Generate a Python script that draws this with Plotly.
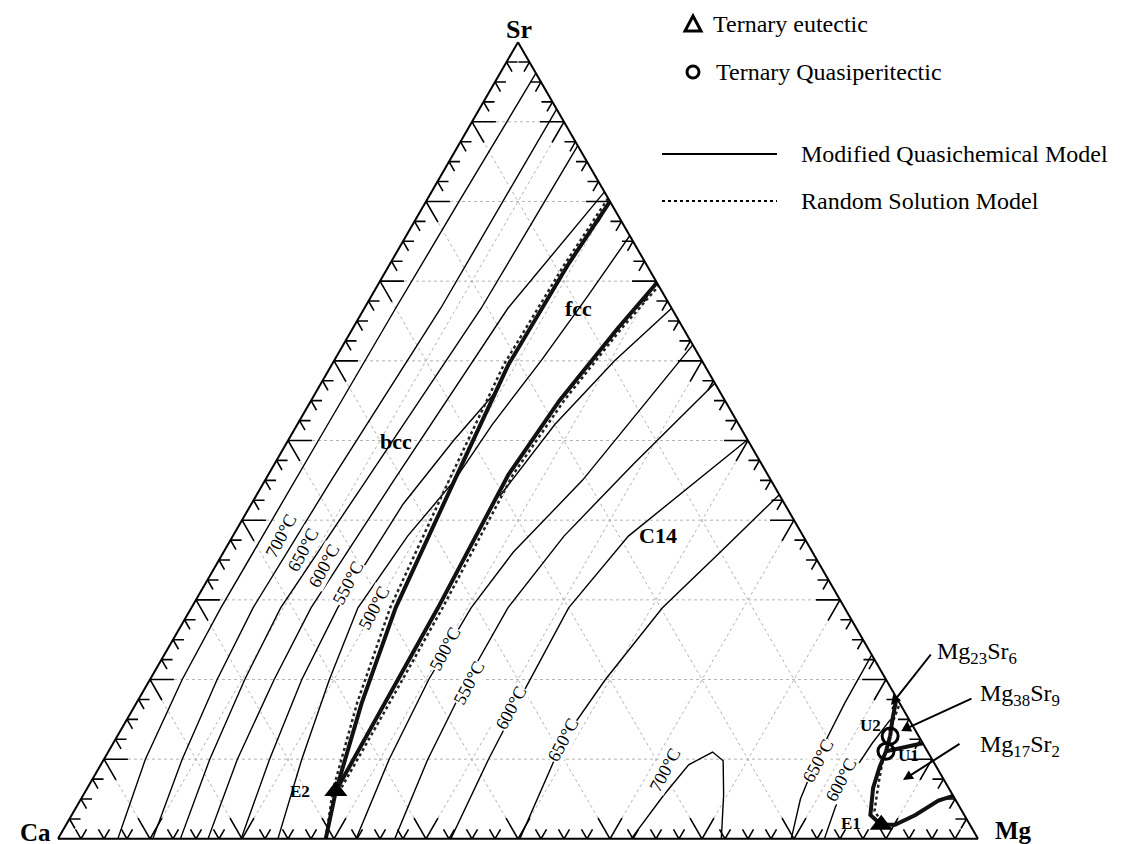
import plotly.graph_objects as go

W, H = 1142, 844

# ---------------- data (mole fractions) ----------------
# each curve: x_Mg list and x_Sr list, x_Ca = 1 - x_Mg - x_Sr

# bcc liquidus isotherms
bcc750_mg = [0.065, 0.045, 0.035, 0.032, 0.033, 0.034, 0.036, 0.039]
bcc750_sr = [0.0, 0.10, 0.20, 0.29, 0.50, 0.666, 0.80, 0.961]
bcc700_mg = [0.103, 0.085, 0.073, 0.067, 0.072, 0.083, 0.084]
bcc700_sr = [0.0, 0.10, 0.20, 0.29, 0.45, 0.666, 0.916]
bcc650_mg = [0.133, 0.115, 0.103, 0.097, 0.110, 0.127, 0.130]
bcc650_sr = [0.0, 0.10, 0.20, 0.29, 0.45, 0.666, 0.870]
bcc600_mg = [0.163, 0.145, 0.135, 0.130, 0.140, 0.156, 0.188]
bcc600_sr = [0.0, 0.10, 0.20, 0.29, 0.45, 0.666, 0.812]
bcc550_mg = [0.199, 0.180, 0.165, 0.159, 0.165, 0.180, 0.195]
bcc550_sr = [0.0, 0.10, 0.20, 0.29, 0.42, 0.50, 0.56]
bcc500_mg = [0.239, 0.215, 0.195, 0.181, 0.190, 0.206]
bcc500_sr = [0.0, 0.10, 0.20, 0.29, 0.38, 0.45]

# fcc isotherm
fcc_mg = [0.243, 0.235, 0.225, 0.212, 0.206]
fcc_sr = [0.757, 0.68, 0.60, 0.52, 0.45]

# C14 isotherms
c14_450_mg = [0.265, 0.280, 0.305, 0.334]
c14_450_sr = [0.43, 0.52, 0.60, 0.666]
c14_500_mg = [0.324, 0.310, 0.303, 0.304, 0.315, 0.345, 0.380]
c14_500_sr = [0.0, 0.10, 0.20, 0.29, 0.36, 0.45, 0.620]
c14_550_mg = [0.366, 0.352, 0.345, 0.344, 0.360, 0.390, 0.428]
c14_550_sr = [0.0, 0.10, 0.20, 0.29, 0.38, 0.47, 0.572]
c14_600_mg = [0.427, 0.418, 0.414, 0.410, 0.430, 0.499]
c14_600_sr = [0.0, 0.10, 0.177, 0.29, 0.38, 0.501]
c14_650_mg = [0.502, 0.487, 0.495, 0.512, 0.540, 0.568]
c14_650_sr = [0.0, 0.124, 0.20, 0.29, 0.36, 0.432]
c14_700_mg = [0.623, 0.631, 0.639, 0.657, 0.674, 0.696, 0.721]
c14_700_sr = [0.0, 0.055, 0.093, 0.109, 0.098, 0.055, 0.0]
mgside650_mg = [0.797, 0.782, 0.774, 0.770, 0.769]
mgside650_sr = [0.0, 0.05, 0.105, 0.17, 0.231]
mgside600_mg = [0.833, 0.825, 0.822, 0.825, 0.830]
mgside600_sr = [0.0, 0.04, 0.08, 0.12, 0.15]

# univariant lines, Modified Quasichemical Model
mqm_bcc_fcc_mg = [0.291, 0.272, 0.245, 0.222, 0.206, 0.192, 0.194, 0.200]
mqm_bcc_fcc_sr = [0.0, 0.060, 0.17, 0.29, 0.45, 0.595, 0.72, 0.800]
mqm_fcc_c14_mg = [0.272, 0.270, 0.268, 0.261, 0.270, 0.288, 0.302]
mqm_fcc_c14_sr = [0.060, 0.17, 0.29, 0.457, 0.55, 0.641, 0.698]
mqm_u2_edge_mg = [0.840, 0.832, 0.823]
mqm_u2_edge_sr = [0.129, 0.150, 0.177]
mqm_u2_u1_mg = [0.840, 0.845]
mqm_u2_u1_sr = [0.129, 0.110]
mqm_u1_edge_mg = [0.845, 0.880]
mqm_u1_edge_sr = [0.110, 0.120]
mqm_u1_e1_mg = [0.845, 0.848, 0.854, 0.868, 0.886]
mqm_u1_e1_sr = [0.110, 0.090, 0.064, 0.030, 0.0176]
mqm_e1_edge_mg = [0.886, 0.901, 0.917, 0.933, 0.946]
mqm_e1_edge_sr = [0.0176, 0.0176, 0.030, 0.048, 0.054]

# univariant lines, Random Solution Model
rsm_bcc_fcc_mg = [0.291, 0.268, 0.240, 0.216, 0.200, 0.187, 0.190, 0.196]
rsm_bcc_fcc_sr = [0.0, 0.062, 0.17, 0.29, 0.45, 0.595, 0.72, 0.804]
rsm_fcc_c14_mg = [0.276, 0.275, 0.273, 0.266, 0.275, 0.292, 0.306]
rsm_fcc_c14_sr = [0.058, 0.17, 0.29, 0.457, 0.55, 0.640, 0.694]
rsm_u1_e1_mg = [0.845, 0.857, 0.870, 0.884]
rsm_u1_e1_sr = [0.105, 0.070, 0.035, 0.022]
rsm_u2_mg = [0.836, 0.830]
rsm_u2_sr = [0.135, 0.170]

# invariant points
eutectic_mg = [0.272, 0.886]
eutectic_sr = [0.060, 0.0176]
quasi_mg = [0.845, 0.840]
quasi_sr = [0.110, 0.129]

grid_step = 0.1
tick_step = 0.025


def ca(mg, sr):
    return [None if m is None else 1 - m - s for m, s in zip(mg, sr)]


fig = go.Figure()


def curve(mg, sr, width=1.3, dash="solid", color="black"):
    fig.add_trace(go.Scatterternary(
        a=sr, b=ca(mg, sr), c=mg, mode="lines",
        line=dict(color=color, width=width, dash=dash),
        hoverinfo="skip", showlegend=False))


# dotted grid
gm, gs = [], []
for k in range(1, 10):
    g = k * grid_step
    gm += [0, 1 - g, None, g, g, None, 1 - g, 0, None]
    gs += [g, g, None, 0, 1 - g, None, 0, 1 - g, None]
curve(gm, gs, width=1, dash="dot", color="#b4b4b4")

# edge ticks (two short arms along the grid directions)
tm, ts = [], []
for k in range(1, 40):
    v = k * tick_step
    d = 0.026 if k % 4 == 0 else 0.012
    tm += [v - d, v, v, None]          # bottom edge Ca-Mg
    ts += [d, 0, d, None]
    tm += [d, 0, d, None]              # left edge Ca-Sr
    ts += [v, v, v - d, None]
    tm += [1 - v - d, 1 - v, 1 - v, None]  # right edge Sr-Mg
    ts += [v, v, v - d, None]
curve(tm, ts, width=1.6)

# isotherms
for mg, sr in [(bcc750_mg, bcc750_sr), (bcc700_mg, bcc700_sr), (bcc650_mg, bcc650_sr),
               (bcc600_mg, bcc600_sr), (bcc550_mg, bcc550_sr), (bcc500_mg, bcc500_sr),
               (fcc_mg, fcc_sr), (c14_450_mg, c14_450_sr), (c14_500_mg, c14_500_sr),
               (c14_550_mg, c14_550_sr), (c14_600_mg, c14_600_sr), (c14_650_mg, c14_650_sr),
               (c14_700_mg, c14_700_sr), (mgside650_mg, mgside650_sr),
               (mgside600_mg, mgside600_sr)]:
    curve(mg, sr, width=1.4)

# univariant lines
for mg, sr in [(rsm_bcc_fcc_mg, rsm_bcc_fcc_sr), (rsm_fcc_c14_mg, rsm_fcc_c14_sr),
               (rsm_u1_e1_mg, rsm_u1_e1_sr), (rsm_u2_mg, rsm_u2_sr)]:
    curve(mg, sr, width=2.5, dash="dot", color="#222222")
for mg, sr in [(mqm_bcc_fcc_mg, mqm_bcc_fcc_sr), (mqm_fcc_c14_mg, mqm_fcc_c14_sr),
               (mqm_u2_edge_mg, mqm_u2_edge_sr), (mqm_u2_u1_mg, mqm_u2_u1_sr),
               (mqm_u1_edge_mg, mqm_u1_edge_sr), (mqm_u1_e1_mg, mqm_u1_e1_sr),
               (mqm_e1_edge_mg, mqm_e1_edge_sr)]:
    curve(mg, sr, width=4, color="#111111")

fig.add_trace(go.Scatterternary(
    a=eutectic_sr, b=ca(eutectic_mg, eutectic_sr), c=eutectic_mg, mode="markers",
    marker=dict(symbol="triangle-up", size=20, color="black"),
    hoverinfo="skip", showlegend=False))
fig.add_trace(go.Scatterternary(
    a=quasi_sr, b=ca(quasi_mg, quasi_sr), c=quasi_mg, mode="markers",
    marker=dict(symbol="circle-open", size=16, color="black", line=dict(width=3)),
    hoverinfo="skip", showlegend=False))

axis = dict(showticklabels=False, ticks="", showline=True, linecolor="black",
            linewidth=2, showgrid=False, title=dict(text=""), min=0)
fig.update_layout(
    width=W, height=H, autosize=False,
    margin=dict(l=0, r=0, t=0, b=0),
    paper_bgcolor="white", plot_bgcolor="white",
    font=dict(family="Liberation Serif", color="black"),
    ternary=dict(sum=1, aaxis=axis, baxis=axis, caxis=axis, bgcolor="white",
                 domain=dict(x=[50 / W, 970 / W], y=[1 - 831 / H, 1 - 34 / H])),
)


def px(x):
    return x / W


def py(y):
    return 1 - y / H


notes = []


def label(x, y, text, size, angle=0, bold=False, bg=None, anchor="center"):
    notes.append(dict(x=px(x), y=py(y), xref="paper", yref="paper", showarrow=False,
                      text=f"<b>{text}</b>" if bold else text, textangle=angle,
                      font=dict(size=size, family="Liberation Serif", color="black"),
                      bgcolor=bg, xanchor=anchor, yanchor="middle", borderpad=0))


# vertex names
label(511, 22, "Sr", 26, bold=True)
label(27, 824, "Ca", 25, bold=True)
label(1005, 822, "Mg", 25, bold=True)
# phase fields
label(388, 433, "bcc", 22, bold=True)
label(570, 300, "fcc", 22, bold=True)
label(650, 527, "C14", 22, bold=True)
# invariant point names
label(292, 783, "E2", 17, bold=True)
label(843, 815, "E1", 17, bold=True)
label(862, 717, "U2", 17, bold=True)
label(900, 747, "U1", 17, bold=True)
# isotherm labels
for x, y, t in [(273, 528, "700°C"), (295, 542, "650°C"), (316, 558, "600°C"),
                (340, 575, "550°C"), (366, 600, "500°C"), (437, 641, "500°C"),
                (461, 675, "550°C"), (503, 700, "600°C"), (555, 732, "650°C"),
                (657, 762, "700°C"), (810, 753, "650°C"), (833, 772, "600°C")]:
    label(x, y, t, 18, angle=-62, bg="white")
# compound labels with arrows
label(928, 645, "Mg<sub>23</sub>Sr<sub>6</sub>", 24, anchor="left")
label(971, 687, "Mg<sub>38</sub>Sr<sub>9</sub>", 24, anchor="left")
label(971, 738, "Mg<sub>17</sub>Sr<sub>2</sub>", 24, anchor="left")
for (x0, y0), (x1, y1) in [((924, 645), (883, 697)), ((965, 690), (893, 723)),
                           ((953, 735), (895, 772))]:
    notes.append(dict(x=px(x1), y=py(y1), xref="paper", yref="paper", text="",
                      showarrow=True, ax=x0 - x1, ay=y0 - y1, arrowhead=2,
                      arrowsize=1, arrowwidth=2, arrowcolor="black"))

# legend
label(704, 16, "Ternary eutectic", 24, anchor="left")
label(707, 64, "Ternary Quasiperitectic", 24, anchor="left")
label(792, 146, "Modified Quasichemical Model", 24, anchor="left")
label(792, 193, "Random Solution Model", 24, anchor="left")
shapes = [
    dict(type="path", xref="paper", yref="paper",
         path=f"M {px(677)},{py(23)} L {px(693)},{py(23)} L {px(685)},{py(8)} Z",
         line=dict(color="black", width=3), fillcolor="white"),
    dict(type="circle", xref="paper", yref="paper", x0=px(679), x1=px(691),
         y0=py(70), y1=py(58), line=dict(color="black", width=3)),
    dict(type="line", xref="paper", yref="paper", x0=px(654), x1=px(769),
         y0=py(146), y1=py(146), line=dict(color="black", width=2)),
    dict(type="line", xref="paper", yref="paper", x0=px(654), x1=px(769),
         y0=py(193), y1=py(193), line=dict(color="black", width=2, dash="dot")),
]
fig.update_layout(annotations=notes, shapes=shapes)

fig.write_html("out.html")
